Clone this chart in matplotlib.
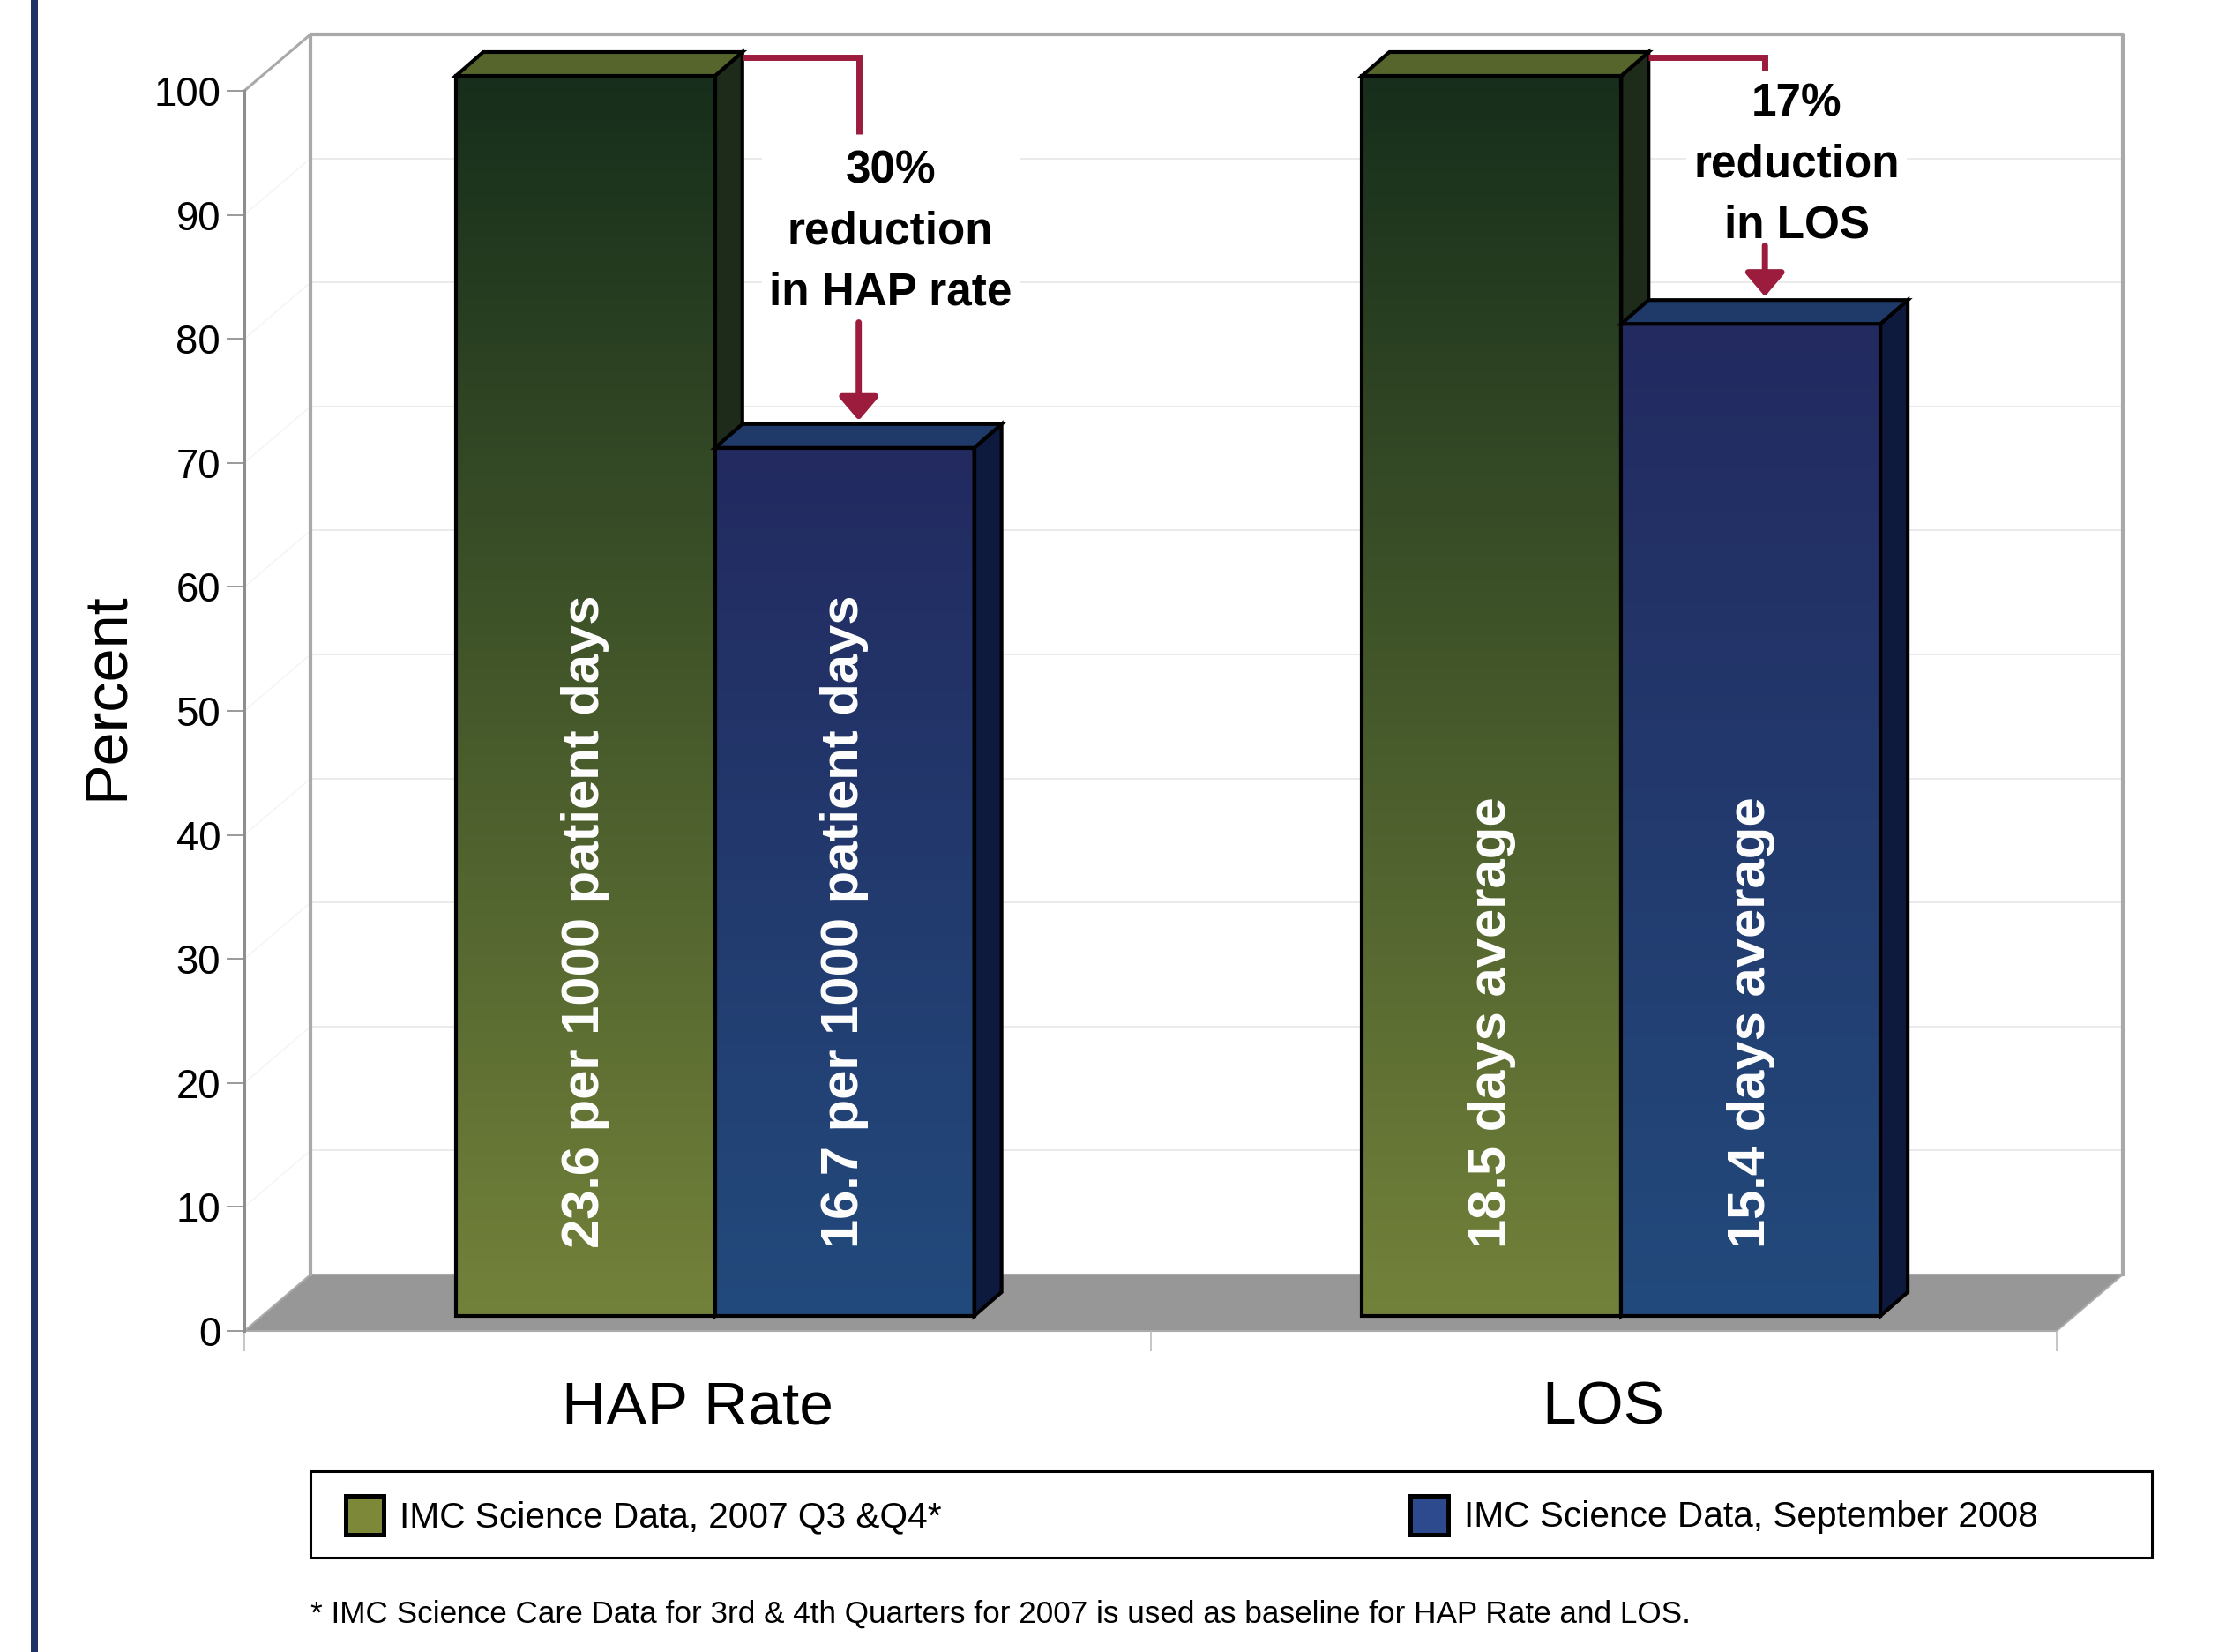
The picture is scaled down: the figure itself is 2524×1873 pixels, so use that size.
import numpy as np
import matplotlib
matplotlib.use("Agg")
import matplotlib.pyplot as plt
from matplotlib.transforms import Affine2D, IdentityTransform
from matplotlib.patches import Polygon, Rectangle, FancyArrowPatch
from matplotlib.lines import Line2D
from matplotlib import font_manager as fm

# ---------------- data ----------------
categories = ["HAP Rate", "LOS"]
series_names = ["IMC Science Data, 2007 Q3 &Q4*", "IMC Science Data, September 2008"]
baseline_pct = [100, 100]          # 2007 Q3 & Q4 (baseline)
sept2008_pct = [70, 80]            # September 2008
baseline_labels = ["23.6 per 1000 patient days", "18.5 days average"]
sept2008_labels = ["16.7 per 1000 patient days", "15.4 days average"]
reduction_notes = ["30%\nreduction\nin HAP rate", "17%\nreduction\nin LOS"]
y_ticks = list(range(0, 101, 10))
y_label = "Percent"
footnote = ("* IMC Science Care Data for 3rd & 4th Quarters for 2007 is used as "
            "baseline for HAP Rate and LOS.")

# ---------------- layout / style ----------------
W, H, DPI = 2524, 1873, 100
BACK = (75, 64)      # depth offset of back wall (pixels)
BF = (20, 17)        # bar front plane offset
BB = (51, 44)        # bar back plane offset
MID = (36, 30)
BW = 0.286
note_center = [85.5, 90.9]     # y (back plane) of note centres
seg_end = [93.4, 98.5]         # end of the drop line above the note
arrow_start = [78.2, 84.4]     # start of arrow below the note

names = {f.name for f in fm.fontManager.ttflist}
if "Liberation Sans Narrow" in names:
    NARROW, k, ls = "Liberation Sans Narrow", 1.0, 1.2
else:
    NARROW, k, ls = "Liberation Sans", 0.82, 1.52
REG = "Liberation Sans"

RED = "#9b1c3c"
green_grad = [(115, 130, 58), (22, 46, 27)]
blue_grad = [(34, 74, 124), (35, 42, 96)]
green_top, green_side = "#56652c", "#1f2b1a"
blue_top, blue_side = "#1f3a68", "#0e1a3d"

fig = plt.figure(figsize=(W / DPI, H / DPI), dpi=DPI)
fig.patch.set_facecolor("white")

ax = fig.add_axes([277 / W, 1 - 1509 / H, (2332 - 277) / W, (1509 - 103) / H])
ax.set_xlim(-0.5, len(categories) - 0.5)
ax.set_ylim(0, 100)
ax.set_autoscale_on(False)
ax.patch.set_visible(False)
for s in ["top", "right", "bottom"]:
    ax.spines[s].set_visible(False)
ax.spines["left"].set_color("#8e8e8e")
ax.spines["left"].set_linewidth(2.2)

ID = IdentityTransform()


def P(x, y, off=(0, 0)):
    X, Y = ax.transData.transform((x, y))
    return (X + off[0], Y + off[1])


def plane(off):
    return ax.transData + Affine2D().translate(off[0], off[1])


def poly(pts, **kw):
    p = Polygon(pts, closed=True, transform=ID, clip_on=False, **kw)
    ax.add_artist(p)
    return p


def line(pts, **kw):
    xs, ys = zip(*pts)
    l = Line2D(xs, ys, transform=ID, clip_on=False, **kw)
    ax.add_artist(l)
    return l


x0, x1 = ax.get_xlim()

# back wall
poly([P(x0, 0, BACK), P(x1, 0, BACK), P(x1, 100, BACK), P(x0, 100, BACK)],
     facecolor="white", edgecolor="none", zorder=0.2)
for v in y_ticks[1:-1]:
    line([P(x0, v, BACK), P(x1, v, BACK)], color="#e8e8e8", lw=1.2, zorder=0.3)
    line([P(x0, v), P(x0, v, BACK)], color="#f4f4f4", lw=1.0, zorder=0.3)
# floor
poly([P(x0, 0), P(x1, 0), P(x1, 0, BACK), P(x0, 0, BACK)],
     facecolor="#979797", edgecolor="#ababab", lw=1.5, zorder=0.4)
# wall borders
line([P(x0, 0, BACK), P(x0, 100, BACK), P(x1, 100, BACK), P(x1, 0, BACK)],
     color="#a9a9a9", lw=3, zorder=0.5)
line([P(x0, 100), P(x0, 100, BACK)], color="#a9a9a9", lw=2.2, zorder=0.5)

# axis ticks
ax.set_yticks(y_ticks)
ax.tick_params(axis="y", length=14.4, width=1.4, color="#9a9a9a", pad=5,
               labelsize=40 * k)
for lbl in ax.get_yticklabels():
    lbl.set_fontfamily(NARROW)
ax.set_xticks(np.arange(len(categories) + 1) - 0.5)
ax.set_xticklabels([""] * (len(categories) + 1))
ax.tick_params(axis="x", which="major", length=16.5, width=1.2, color="#bcbcbc")
ax.set_xticks(np.arange(len(categories)), minor=True)
ax.set_xticklabels(categories, minor=True)
ax.tick_params(axis="x", which="minor", length=0, pad=40, labelsize=61 * k)
for lbl in ax.get_xticklabels(minor=True):
    lbl.set_fontfamily(NARROW)

fig.text(121 / W, 1 - 789 / H, y_label, rotation=90, ha="center", va="center",
         fontsize=60 * k, family=NARROW)


def gradient(c_bot, c_top, n=256):
    t = np.linspace(0, 1, n)[:, None]
    a = np.array(c_bot) / 255.0
    b = np.array(c_top) / 255.0
    return (a * (1 - t) + b * t)[:, None, :]


# ---------------- bars ----------------
xc = np.arange(len(categories))
series = [
    (xc - BW / 2, baseline_pct, green_grad, green_top, green_side, baseline_labels),
    (xc + BW / 2, sept2008_pct, blue_grad, blue_top, blue_side, sept2008_labels),
]
tr_front = plane(BF)
for si, (xs, vals, grad, ctop, cside, labels) in enumerate(series):
    z = 2 + si
    for x, v, lab in zip(xs, vals, labels):
        bl, br = x - BW / 2, x + BW / 2
        ax.imshow(gradient(*grad), extent=(bl, br, 0, v), origin="lower",
                  aspect="auto", transform=tr_front, zorder=z, clip_on=False,
                  interpolation="bilinear")
        ax.bar(x, v, BW, transform=tr_front, facecolor="none", edgecolor="black",
               linewidth=3, zorder=z + 0.2, clip_on=False)
        poly([P(br, 0, BF), P(br, v, BF), P(br, v, BB), P(br, 0, BB)],
             facecolor=cside, edgecolor="black", lw=3, zorder=z + 0.1)
        poly([P(bl, v, BF), P(br, v, BF), P(br, v, BB), P(bl, v, BB)],
             facecolor=ctop, edgecolor="black", lw=3, zorder=z + 0.3)
        ax.text(x, 5.5, lab, rotation=90, ha="center", va="bottom",
                transform=tr_front, color="white", fontsize=43,
                fontweight="bold", family=REG, zorder=6, clip_on=False)

# ---------------- reduction annotations ----------------
for i in range(len(categories)):
    g_right = xc[i]
    xb = xc[i] + BW / 2
    ax_x = P(xb, 0, MID)[0]
    top_y = P(g_right, baseline_pct[i], BB)[1] - 6
    start_x = P(g_right, baseline_pct[i], BB)[0]
    y_end = P(xb, seg_end[i], BB)[1]
    line([(start_x, top_y), (ax_x, top_y), (ax_x, y_end)], color=RED, lw=5,
         zorder=8, solid_joinstyle="miter", solid_capstyle="butt")
    ya = P(xb, arrow_start[i], BB)[1]
    yt = P(xb, sept2008_pct[i], BB)[1] + 4
    arr = FancyArrowPatch((ax_x, ya), (ax_x, yt),
                          arrowstyle="-|>,head_length=0.4,head_width=0.34",
                          mutation_scale=40, lw=5, color=RED, transform=ID,
                          shrinkA=0, shrinkB=0, clip_on=False, zorder=8)
    ax.add_artist(arr)
    tx, ty = P(xb, note_center[i], BB)
    ax.text(tx + 21, ty, reduction_notes[i], transform=ID, ha="center", va="center",
            multialignment="center", fontsize=45 * k, fontweight="bold",
            family=NARROW, color="black", linespacing=ls, zorder=7,
            bbox=dict(facecolor="white", edgecolor="none", pad=6), clip_on=False)

# ---------------- legend ----------------
def fx(px):
    return px / W


def fy(py):
    return 1 - py / H


fig.add_artist(Rectangle((fx(352), fy(1766)), fx(2440) - fx(352), fy(1668) - fy(1766),
                         transform=fig.transFigure, facecolor="white",
                         edgecolor="black", lw=2.2))
leg_marker_x = [392, 1599]
leg_text_x = [453, 1660]
leg_face = ["#7d8838", "#2d4a8e"]
for mx, tx, fc, name in zip(leg_marker_x, leg_text_x, leg_face, series_names):
    fig.add_artist(Rectangle((fx(mx), fy(1740)), fx(mx + 43) - fx(mx), fy(1696) - fy(1740),
                             transform=fig.transFigure, facecolor=fc,
                             edgecolor="black", lw=3.6))
    fig.text(fx(tx), fy(1731), name, ha="left", va="baseline",
             fontsize=35.7 * k, family=NARROW)

fig.text(fx(352), fy(1840), footnote, ha="left", va="baseline",
         fontsize=30.9 * k, family=NARROW)

# left decorative rule
fig.add_artist(Rectangle((fx(35), 0), fx(8), 1, transform=fig.transFigure,
                         facecolor="#1f3366", edgecolor="none"))

fig.savefig("out.png", dpi=DPI, facecolor="white")
